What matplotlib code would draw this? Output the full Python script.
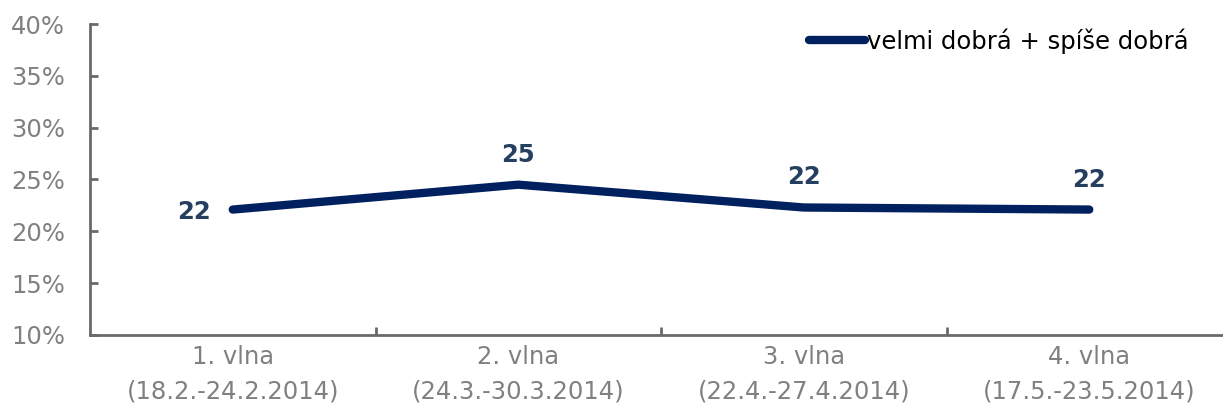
import matplotlib.pyplot as plt
import matplotlib.ticker as mticker

waves = ['1. vlna\n(18.2.-24.2.2014)', '2. vlna\n(24.3.-30.3.2014)',
         '3. vlna\n(22.4.-27.4.2014)', '4. vlna\n(17.5.-23.5.2014)']
good = [22.1, 24.5, 22.3, 22.1]
labels = ['22', '25', '22', '22']
series_name = 'velmi dobrá + spíše dobrá'

LINE = '#002060'
LBL = '#243f60'
GREY = '#808080'
AXIS = '#6a6a6a'
FS = 17.5

fig = plt.figure(figsize=(12.23, 4.08), dpi=100)
# axis runs off the right edge in the original
ax = fig.add_axes([90 / 1223, (408 - 335) / 408, 1142 / 1223, 311 / 408])

x = list(range(len(good)))
ax.plot(x, good, color=LINE, lw=6, solid_capstyle='round', solid_joinstyle='round',
        label=series_name)

# value labels: first one sits to the left, the rest above
for i, (v, t) in enumerate(zip(good, labels)):
    if i == 0:
        ax.annotate(t, (i, v), xytext=(-16, -2), textcoords='offset points',
                    ha='right', va='center', fontsize=FS, fontweight='bold', color=LBL)
    else:
        ax.annotate(t, (i, v), xytext=(0, 13), textcoords='offset points',
                    ha='center', va='bottom', fontsize=FS, fontweight='bold', color=LBL)

ax.set_xlim(-0.5, 3.5)
ax.set_ylim(10, 40)
ax.yaxis.set_major_locator(mticker.MultipleLocator(5))
ax.yaxis.set_major_formatter(mticker.FuncFormatter(lambda v, p: '%d%%' % v))

ax.set_xticks([0.5, 1.5, 2.5])
ax.set_xticklabels([])
ax.set_xticks(x, minor=True)
ax.set_xticklabels(waves, minor=True, linespacing=1.55)
ax.tick_params(axis='x', which='minor', length=0, pad=7, labelsize=FS, labelcolor=GREY)
ax.tick_params(axis='x', which='major', direction='in', length=6, color=AXIS, width=2)
ax.tick_params(axis='y', direction='in', length=6, color=AXIS, width=2,
               labelsize=FS, labelcolor=GREY, pad=18)

for s in ['top', 'right']:
    ax.spines[s].set_visible(False)
for s in ['left', 'bottom']:
    ax.spines[s].set_color(AXIS)
    ax.spines[s].set_linewidth(2)

leg = ax.legend(loc='upper right', bbox_to_anchor=(1189 / 1223, 1 - 28 / 408),
                bbox_transform=fig.transFigure, frameon=False, fontsize=FS,
                handlelength=2.3, handletextpad=0.1, borderaxespad=0, borderpad=0)

fig.savefig('out.png', dpi=100)
